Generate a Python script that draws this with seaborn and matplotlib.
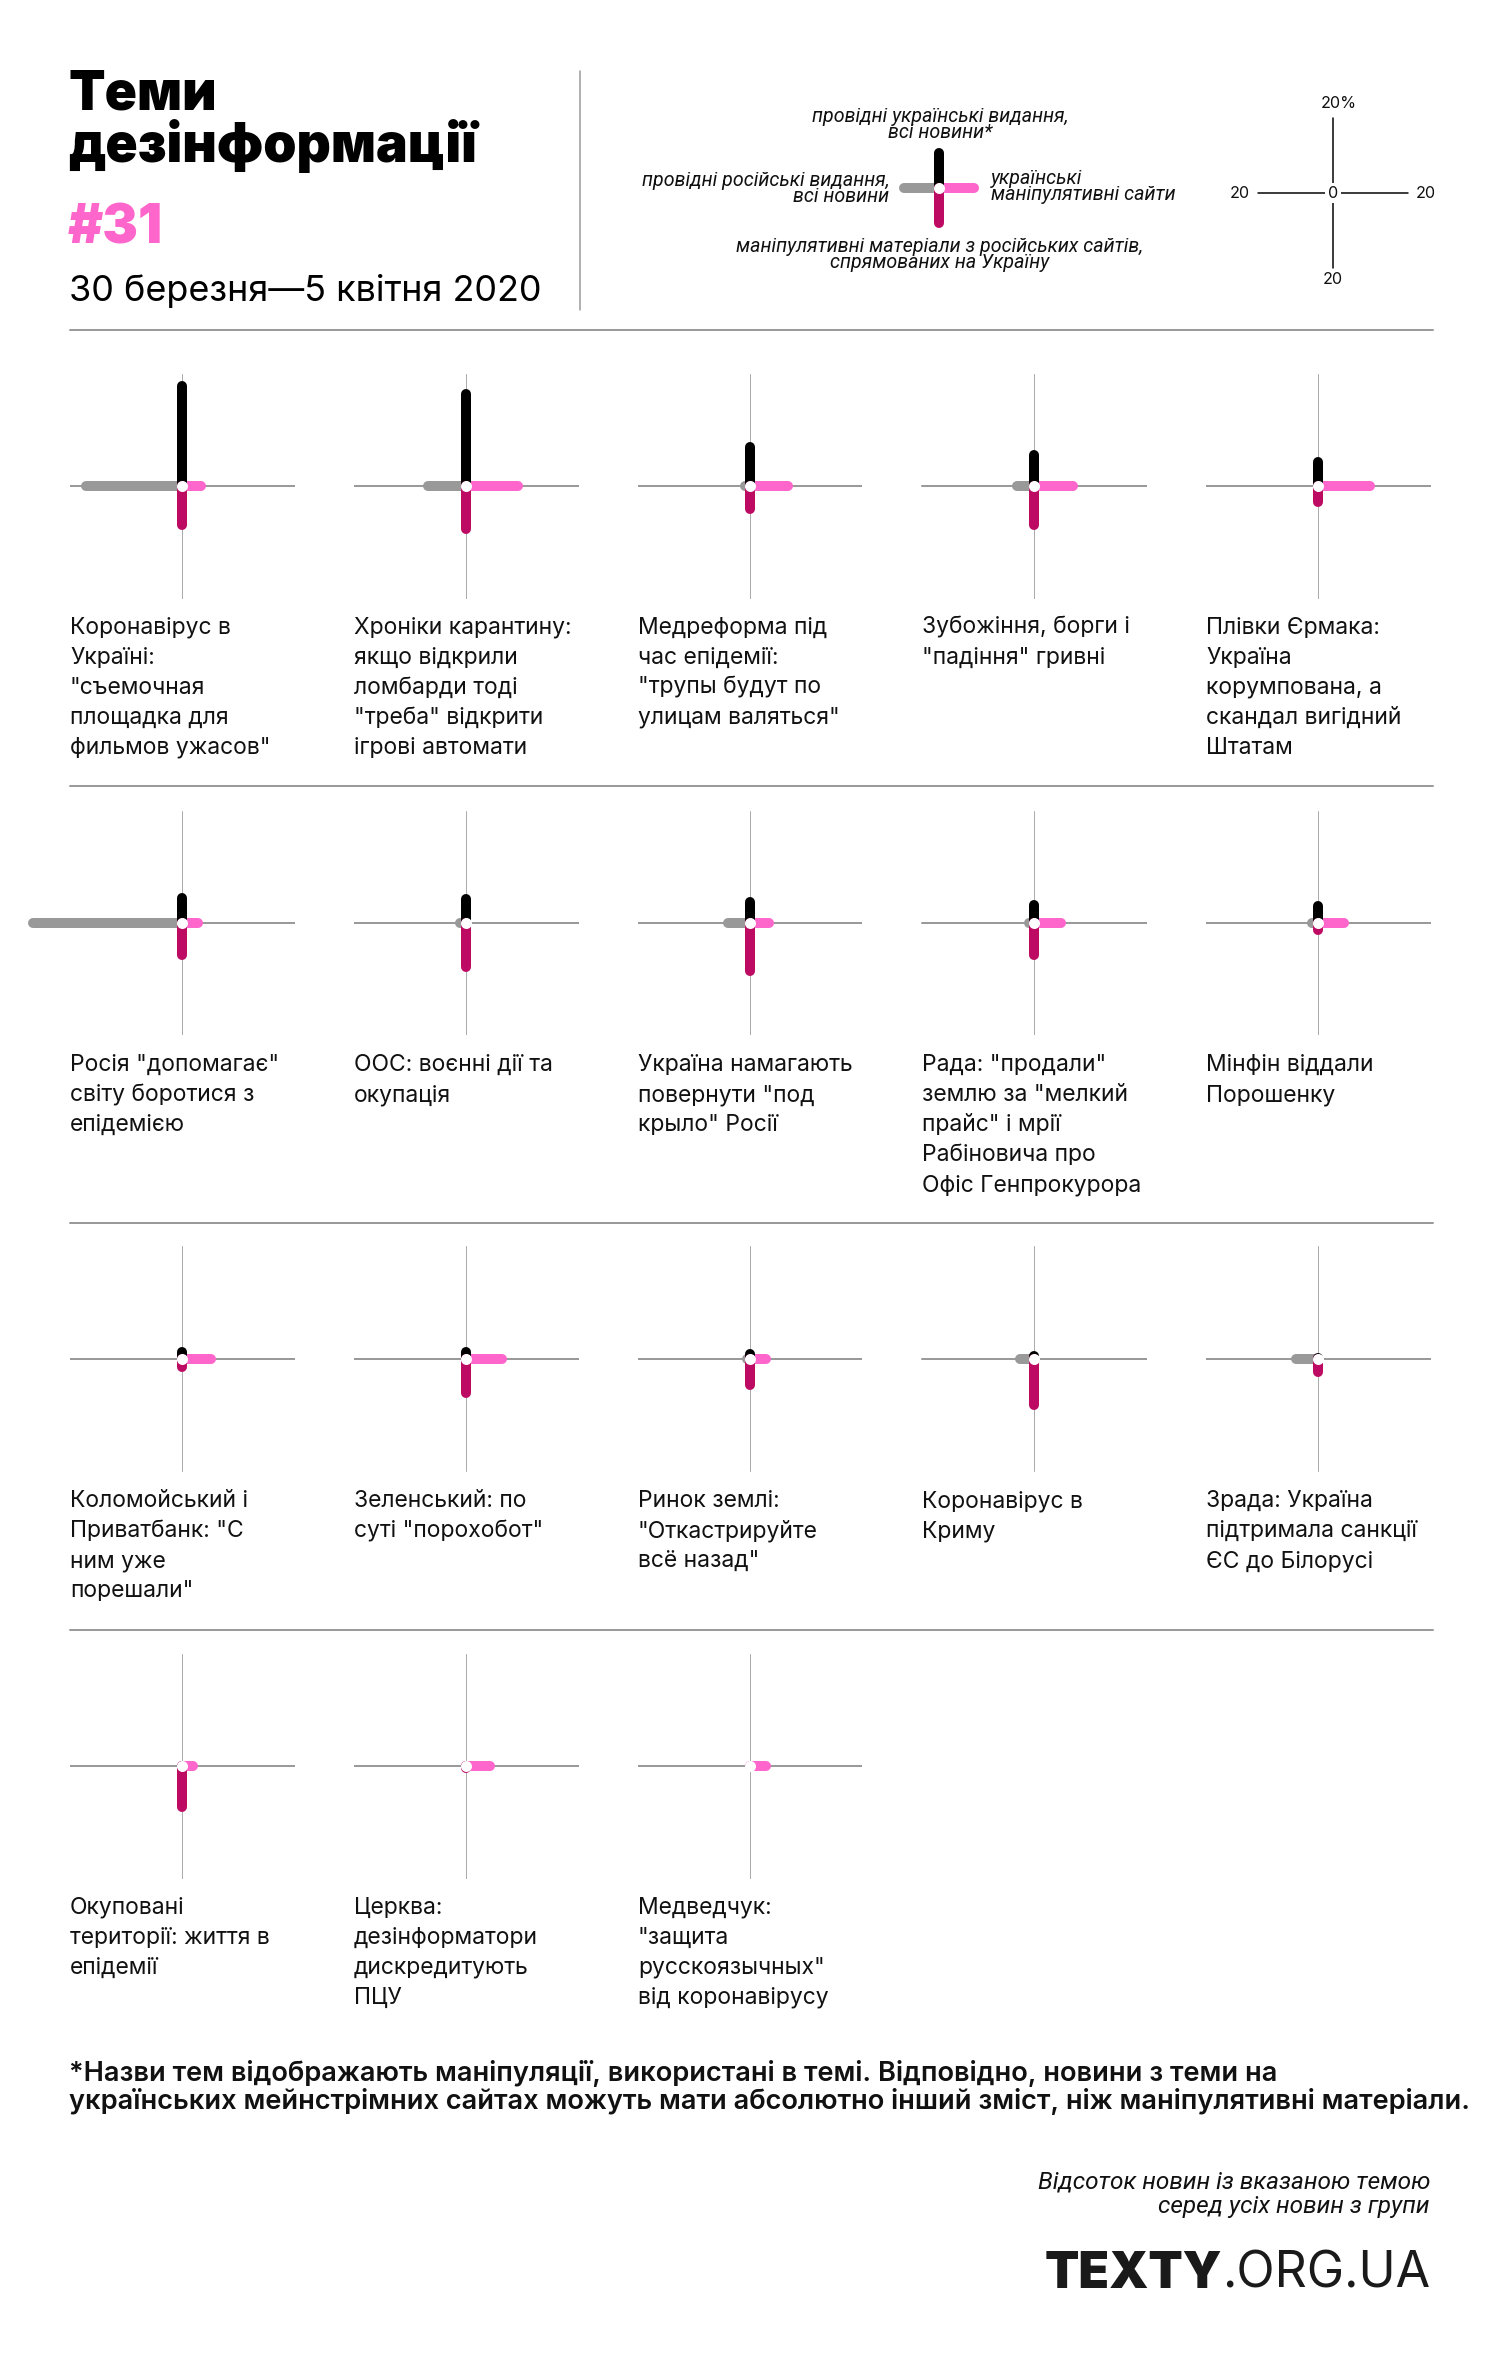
import matplotlib
matplotlib.use("Agg")
import matplotlib.pyplot as plt
import numpy as np
import pandas as pd
import seaborn as sns

# ------------------------------------------------------------------ data
topics = [
    "Коронавірус в\nУкраїні:\n\"съемочная\nплощадка для\nфильмов ужасов\"",
    "Хроніки карантину:\nякщо відкрили\nломбарди тоді\n\"треба\" відкрити\nігрові автомати",
    "Медреформа під\nчас епідемії:\n\"трупы будут по\nулицам валяться\"",
    "Зубожіння, борги і\n\"падіння\" гривні",
    "Плівки Єрмака:\nУкраїна\nкорумпована, а\nскандал вигідний\nШтатам",
    "Росія \"допомагає\"\nсвіту боротися з\nепідемією",
    "ООС: воєнні дії та\nокупація",
    "Україна намагають\nповернути \"под\nкрыло\" Росії",
    "Рада: \"продали\"\nземлю за \"мелкий\nпрайс\" і мрії\nРабіновича про\nОфіс Генпрокурора",
    "Мінфін віддали\nПорошенку",
    "Коломойський і\nПриватбанк: \"С\nним уже\nпорешали\"",
    "Зеленський: по\nсуті \"порохобот\"",
    "Ринок землі:\n\"Откастрируйте\nвсё назад\"",
    "Коронавірус в\nКриму",
    "Зрада: Україна\nпідтримала санкції\nЄС до Білорусі",
    "Окуповані\nтериторії: життя в\nепідемії",
    "Церква:\nдезінформатори\nдискредитують\nПЦУ",
    "Медведчук:\n\"защита\nрусскоязычных\"\nвід коронавірусу",
]
# % of news with the topic, per group of sources
ua_mainstream = [26.7, 24.5, 10.4, 8.3, 6.4, 6.7, 6.4, 5.6, 4.8, 4.5,
                 1.9, 1.9, 1.3, 0.8, 0.3, 0.0, 0.0, 0.0]          # up, black
ru_mainstream = [25.6, 10.1, 1.3, 4.5, 0.0, 39.7, 1.7, 5.9, 1.3, 1.5,
                 0.0, 0.0, 0.8, 3.7, 5.9, 0.0, 0.0, 0.0]          # left, grey
ua_manipulative = [5.1, 13.9, 10.1, 10.4, 13.9, 4.3, 0.0, 5.1, 7.2, 6.9,
                   7.7, 9.6, 4.3, 0.0, 0.0, 2.9, 6.4, 4.3]        # right, pink
ru_manipulative = [10.4, 11.5, 6.1, 10.4, 4.3, 8.5, 11.7, 12.8, 8.5, 1.9,
                   2.1, 9.1, 6.9, 12.3, 3.5, 10.9, 0.5, 0.0]      # down, crimson

legend_value = 9.3
scale_value = 20
scale_labels = ["20%", "20", "20", "20", "0"]

title_lines = ["Теми", "дезінформації"]
issue = "#31"
date_text = "30 березня—5 квітня 2020"
legend_top = ["провідні українські видання,", "всі новини*"]
legend_left = ["провідні російські видання,", "всі новини"]
legend_right = ["українські", "маніпулятивні сайти"]
legend_bottom = ["маніпулятивні матеріали з російських сайтів,", "спрямованих на Україну"]
footnote = ["*Назви тем відображають маніпуляції, використані в темі. Відповідно, новини з теми на",
            "українських мейнстрімних сайтах можуть мати абсолютно інший зміст, ніж маніпулятивні матеріали."]
note = ["Відсоток новин із вказаною темою", "серед усіх новин з групи"]
brand = ["TEXTY", ".ORG.UA"]

# ------------------------------------------------------------------ style
W, H, DPI = 1500, 2375, 100
PX = 72.0 / DPI          # points per pixel
UNIT = 3.75              # pixels per percentage point
HALF = 30                # half range of a panel's axis in %

C_UP, C_LEFT, C_RIGHT, C_DOWN = "#000000", "#999999", "#ff66cc", "#bd0a63"
PINK = C_RIGHT

sns.set_theme(style="white")
plt.rcParams["font.family"] = ["Inter", "DejaVu Sans"]
ITAL = ["Roboto", "DejaVu Sans"]

fig = plt.figure(figsize=(W / DPI, H / DPI), dpi=DPI)
fig.patch.set_facecolor("white")
bg = fig.add_axes([0, 0, 1, 1])
bg.set_xlim(0, W)
bg.set_ylim(H, 0)
bg.axis("off")
renderer = fig.canvas.get_renderer()


def text_w(text, size, **kw):
    t = bg.text(0, 0, text, fontsize=size, **kw)
    w = t.get_window_extent(renderer=renderer).width
    t.remove()
    return w


def fitted(text, target_px, **kw):
    return 20.0 * target_px / text_w(text, 20.0, **kw)


def cross_axes(cx, cy, half=HALF):
    hp = half * UNIT
    ax = fig.add_axes([(cx - hp) / W, 1 - (cy + hp) / H, 2 * hp / W, 2 * hp / H])
    return ax


def finish(ax, half):
    ax.set_xlim(-half, half)
    ax.set_ylim(-half, half)
    ax.axis("off")


def draw_arms(ax, up, left, right, down, half=HALF):
    segs = pd.DataFrame({
        "arm": ["left", "left", "right", "right", "up", "up", "down", "down"],
        "x": [0, -left, 0, right, 0, 0, 0, 0],
        "y": [0, 0, 0, 0, 0, up, 0, -down],
    })
    for arm, col, z in [("left", C_LEFT, 3), ("right", C_RIGHT, 3),
                        ("up", C_UP, 4), ("down", C_DOWN, 4)]:
        sub = segs[segs["arm"] == arm]
        sns.lineplot(data=sub, x="x", y="y", ax=ax, color=col,
                     linewidth=10 * PX, solid_capstyle="round",
                     estimator=None, sort=False, legend=False,
                     clip_on=False, zorder=z)
    ax.scatter([0], [0], s=(11 * PX) ** 2, color="white", linewidths=0,
               zorder=6, clip_on=False)
    finish(ax, half)


# ------------------------------------------------------------------ panels
col_x = [182, 466, 750, 1034, 1318]
row_y = [486, 923, 1359, 1766]
label_fs = fitted("Коронавірус в", 161)

for i, topic in enumerate(topics):
    r, c = divmod(i, 5)
    cx, cy = col_x[c], row_y[r]
    ax = cross_axes(cx, cy)
    ax.plot([-HALF, HALF], [0, 0], color="#9a9a9a", lw=2 * PX, zorder=1)
    ax.plot([0, 0], [-HALF, HALF], color="#ababab", lw=1 * PX, zorder=1)
    draw_arms(ax, ua_mainstream[i], ru_mainstream[i],
              ua_manipulative[i], ru_manipulative[i])
    for k, line in enumerate(topic.split("\n")):
        bg.text(cx - 112, cy + 148 + 30 * k, line, fontsize=label_fs,
                ha="left", va="baseline", color="#111111")

# ------------------------------------------------------------------ header
title_fs = fitted(title_lines[1], 409, fontweight="black")
bg.text(68, 110, title_lines[0], fontsize=title_fs, fontweight="black",
        va="baseline", color="#000000")
bg.text(68, 162, title_lines[1], fontsize=title_fs, fontweight="black",
        va="baseline", color="#000000")
bg.text(68, 244, issue, fontsize=title_fs, fontweight="black",
        va="baseline", color=PINK)
date_fs = fitted(date_text, 472)
bg.text(69, 301, date_text, fontsize=date_fs, va="baseline", color="#000000")

bg.plot([580, 580], [71, 310], color="#999999", lw=1.5 * PX)
for y in [330, 786, 1223, 1630]:
    bg.plot([70, 1433], [y, y], color="#9a9a9a", lw=2 * PX)

# legend cross
lax = cross_axes(939, 188, half=14)
draw_arms(lax, legend_value, legend_value, legend_value, legend_value, half=14)
leg_fs = fitted(legend_top[0], 255, style="italic", family=ITAL)
lkw = dict(fontsize=leg_fs, style="italic", family=ITAL, color="#111111",
           va="center")
for k, s in enumerate(legend_top):
    bg.text(940, 117 + 16 * k, s, ha="center", **lkw)
for k, s in enumerate(legend_left):
    bg.text(889, 181 + 16 * k, s, ha="right", **lkw)
for k, s in enumerate(legend_right):
    bg.text(991, 179 + 16 * k, s, ha="left", **lkw)
for k, s in enumerate(legend_bottom):
    bg.text(940, 246 + 16 * k, s, ha="center", **lkw)

# scale cross
sax = cross_axes(1333, 193, half=24)
sax.plot([-scale_value, scale_value], [0, 0], color="#000000", lw=1.5 * PX)
sax.plot([0, 0], [-scale_value, scale_value], color="#000000", lw=1.5 * PX)
finish(sax, 24)
sc_fs = fitted(scale_labels[0], 36)
skw = dict(fontsize=sc_fs, color="#111111", ha="center", va="center",
           textcoords="offset pixels", annotation_clip=False)
sax.annotate(scale_labels[0], (0, scale_value), xytext=(6, 15), **skw)
sax.annotate(scale_labels[1], (-scale_value, 0), xytext=(-18, 0), **skw)
sax.annotate(scale_labels[2], (scale_value, 0), xytext=(18, 0), **skw)
sax.annotate(scale_labels[3], (0, -scale_value), xytext=(0, -12), **skw)
sax.annotate(scale_labels[4], (0, 0), xytext=(0, 0),
             bbox=dict(boxstyle="square,pad=0.15", fc="white", ec="none"), **skw)

# ------------------------------------------------------------------ footer
fn_fs = fitted(footnote[1], 1400, fontweight="semibold")
for k, s in enumerate(footnote):
    bg.text(69, 2081 + 28 * k, s, fontsize=fn_fs, fontweight="semibold",
            va="baseline", ha="left", color="#111111")

note_fs = fitted(note[0], 392, style="italic", family=ITAL)
for k, s in enumerate(note):
    bg.text(1430, 2189 + 24 * k, s, fontsize=note_fs, style="italic",
            family=ITAL, va="baseline", ha="right", color="#111111")

w_bold = text_w(brand[0], 20, fontweight="black")
w_reg = text_w(brand[1], 20, fontweight="normal")
brand_fs = 20 * 385 / (w_bold + w_reg)
w_reg_final = w_reg * brand_fs / 20
bg.text(1430, 2288, brand[1], fontsize=brand_fs, fontweight="normal",
        ha="right", va="baseline", color="#1a1a1a")
bg.text(1430 - w_reg_final, 2288, brand[0], fontsize=brand_fs,
        fontweight="black", ha="right", va="baseline", color="#1a1a1a")

fig.savefig("out.png", dpi=DPI, facecolor="white")
